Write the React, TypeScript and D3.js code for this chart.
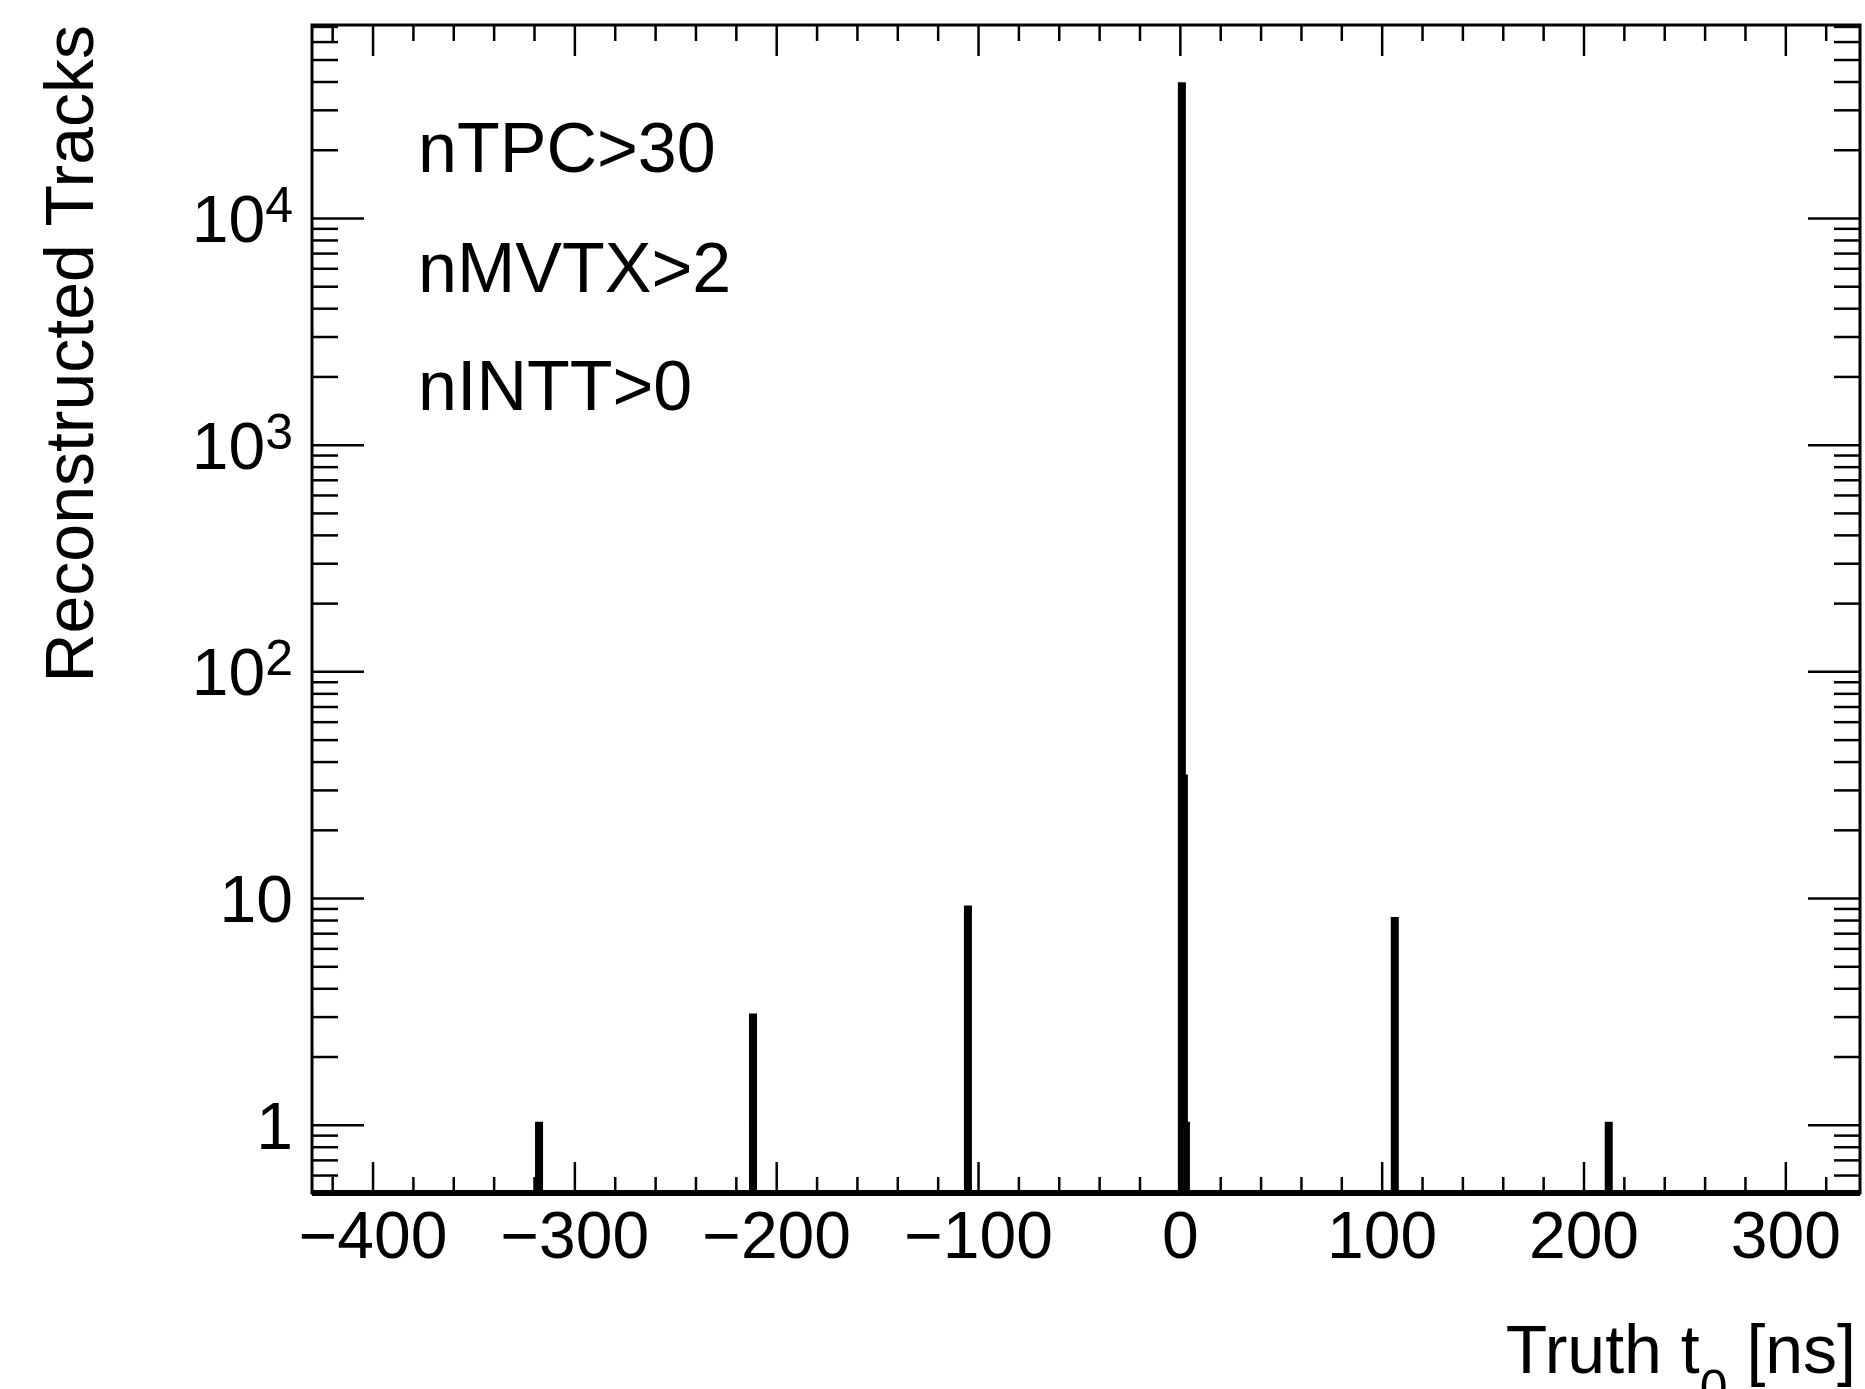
import * as d3 from 'd3';
import React, { useRef, useEffect } from 'react';

// histogram of truth t0, 1 ns bins, only non-empty bins listed
const binCenters = [-317.5, -211.5, -105, 1, 2, 3, 106.5, 212.5];
const counts = [1, 3, 9, 38500, 34, 1, 8, 1];
const binWidth = 1;

const xMajor = [-400, -300, -200, -100, 0, 100, 200, 300];
const yMajor = [1, 10, 100, 1000, 10000];
const yLabels = ["1", "10", "10|2", "10|3", "10|4"];
const cuts = ["nTPC>30", "nMVTX>2", "nINTT>0"];

const W = 1865;
const H = 1389;
const FONT = "'Liberation Sans', Arial, Helvetica, sans-serif";

function App() {
    const ref = useRef<SVGSVGElement>(null);

    useEffect(() => {
        draw();
    }, []);

    const draw = () => {
        const svg = d3.select(ref.current);
        svg.selectAll("*").remove();

        const x = d3.scaleLinear().domain([-430, 337]).range([312, 1860]);
        const y = d3.scaleLog().domain([0.5, 71000]).range([1193, 25]);
        const [left, right] = x.range();
        const [bottom, top] = y.range();

        // histogram outline (ROOT "HIST" style), empty bins run along the frame bottom
        const yMin = y.domain()[0];
        const pts: [number, number][] = [[x.domain()[0], yMin]];
        let prevHi: number | null = null;
        binCenters.forEach((c, i) => {
            const lo = c - binWidth / 2;
            const hi = c + binWidth / 2;
            if (prevHi !== null && Math.abs(prevHi - lo) < 1e-9) {
                pts.push([lo, counts[i]]);
            } else {
                if (prevHi !== null) pts.push([prevHi, yMin]);
                pts.push([lo, yMin]);
                pts.push([lo, counts[i]]);
            }
            pts.push([hi, counts[i]]);
            prevHi = hi;
        });
        pts.push([prevHi as number, yMin]);
        pts.push([x.domain()[1], yMin]);

        const line = d3.line<[number, number]>()
            .x(d => x(d[0]))
            .y(d => y(d[1]));

        svg.append("path")
            .attr("d", line(pts))
            .attr("fill", "none")
            .attr("stroke", "#000")
            .attr("stroke-width", 6)
            .attr("stroke-linejoin", "miter");

        const xMinor = d3.range(-420, 337, 20).filter(v => v % 100 !== 0);
        const yMinor = yMajor.flatMap(d => d3.range(2, 10).map(k => k * d))
            .concat([0.6, 0.7, 0.8, 0.9])
            .filter(v => v < y.domain()[1]);

        const styleAxis = (g) => {
            g.select(".domain").remove();
            g.selectAll("line").attr("stroke-width", 2.5);
            g.attr("font-family", FONT).attr("font-size", 66);
        };

        // bottom axis with labels
        svg.append("g")
            .attr("transform", `translate(0,${bottom})`)
            .call(d3.axisBottom(x).tickValues(xMajor).tickSizeInner(-31).tickSizeOuter(0)
                .tickPadding(18).tickFormat(d3.format("d")))
            .call(styleAxis);
        svg.append("g")
            .attr("transform", `translate(0,${bottom})`)
            .call(d3.axisBottom(x).tickValues(xMinor).tickSizeInner(-16).tickSizeOuter(0).tickFormat(() => ""))
            .call(styleAxis);

        // top axis
        svg.append("g")
            .attr("transform", `translate(0,${top})`)
            .call(d3.axisTop(x).tickValues(xMajor).tickSizeInner(-31).tickSizeOuter(0).tickFormat(() => ""))
            .call(styleAxis);
        svg.append("g")
            .attr("transform", `translate(0,${top})`)
            .call(d3.axisTop(x).tickValues(xMinor).tickSizeInner(-16).tickSizeOuter(0).tickFormat(() => ""))
            .call(styleAxis);

        // left / right axes
        svg.append("g")
            .attr("transform", `translate(${left},0)`)
            .call(d3.axisLeft(y).tickValues(yMajor).tickSizeInner(-52).tickSizeOuter(0).tickFormat(() => ""))
            .call(styleAxis);
        svg.append("g")
            .attr("transform", `translate(${left},0)`)
            .call(d3.axisLeft(y).tickValues(yMinor).tickSizeInner(-26).tickSizeOuter(0).tickFormat(() => ""))
            .call(styleAxis);
        svg.append("g")
            .attr("transform", `translate(${right},0)`)
            .call(d3.axisRight(y).tickValues(yMajor).tickSizeInner(-52).tickSizeOuter(0).tickFormat(() => ""))
            .call(styleAxis);
        svg.append("g")
            .attr("transform", `translate(${right},0)`)
            .call(d3.axisRight(y).tickValues(yMinor).tickSizeInner(-26).tickSizeOuter(0).tickFormat(() => ""))
            .call(styleAxis);

        // y tick labels with superscripts
        const yl = svg.append("g").attr("font-family", FONT).attr("font-size", 66);
        yMajor.forEach((v, i) => {
            const [base, exp] = yLabels[i].split("|");
            const t = yl.append("text")
                .attr("x", left - 19)
                .attr("y", y(v) + 24)
                .attr("text-anchor", "end")
                .text(base);
            if (exp) {
                t.append("tspan")
                    .attr("font-size", 50)
                    .attr("dy", -20)
                    .text(exp);
            }
        });

        // frame
        svg.append("rect")
            .attr("x", left)
            .attr("y", top)
            .attr("width", right - left)
            .attr("height", bottom - top)
            .attr("fill", "none")
            .attr("stroke", "#000")
            .attr("stroke-width", 3);

        // axis titles
        svg.append("text")
            .attr("transform", `translate(93,${top}) rotate(-90)`)
            .attr("text-anchor", "end")
            .attr("font-family", FONT)
            .attr("font-size", 68)
            .text("Reconstructed Tracks");

        const xt = svg.append("text")
            .attr("x", 1856)
            .attr("y", 1373)
            .attr("text-anchor", "end")
            .attr("font-family", FONT)
            .attr("font-size", 68);
        xt.append("tspan").text("Truth t");
        xt.append("tspan").attr("font-size", 50).attr("dy", 32).text("0");
        xt.append("tspan").attr("dy", -32).text(" [ns]");

        // selection cuts
        const baselines = [172, 292, 410];
        svg.append("g")
            .attr("font-family", FONT)
            .attr("font-size", 70)
            .selectAll("text")
            .data(cuts)
            .join("text")
            .attr("x", 418)
            .attr("y", (d, i) => baselines[i])
            .text(d => d);
    };

    return (
        <svg ref={ref} width={W} height={H}
            style={{ position: "absolute", left: 0, top: 0, background: "#fff" }}>
        </svg>
    );
}

export default App;
